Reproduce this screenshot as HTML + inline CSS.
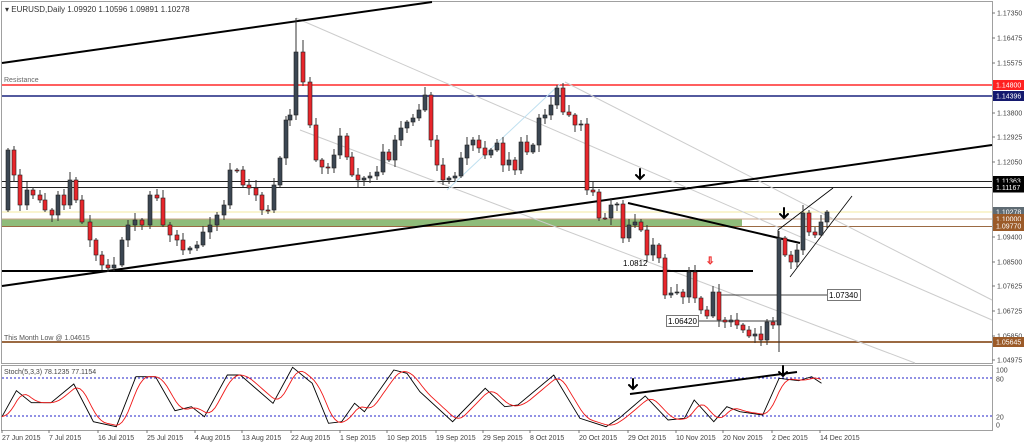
<!DOCTYPE html>
<html><head><meta charset="utf-8"><style>
html,body{margin:0;padding:0;background:#fff;}
svg{display:block;font-family:"Liberation Sans",sans-serif;}
</style></head><body>
<svg id="s" width="1024" height="445" viewBox="0 0 1024 445" xmlns="http://www.w3.org/2000/svg">
<rect x="0" y="0" width="1024" height="445" fill="#fff"/>
<rect x="1.5" y="1.5" width="991" height="362" fill="none" stroke="#a0a0a0"/>
<rect x="1.5" y="365.5" width="991" height="65" fill="none" stroke="#a0a0a0"/>
<rect x="2" y="219" width="740" height="8" fill="#8fbc7a"/>
<line x1="2" y1="85" x2="992" y2="85" stroke="#ff2a2a" stroke-width="1.5"/>
<line x1="2" y1="96" x2="992" y2="96" stroke="#1a237e" stroke-width="1.5"/>
<line x1="2" y1="181.5" x2="992" y2="181.5" stroke="#222" stroke-width="1"/>
<line x1="2" y1="187.5" x2="992" y2="187.5" stroke="#222" stroke-width="1"/>
<line x1="2" y1="212" x2="992" y2="212" stroke="#f3e9a0" stroke-width="1"/>
<line x1="2" y1="219" x2="992" y2="219" stroke="#c8a48a" stroke-width="1"/>
<line x1="2" y1="226.5" x2="992" y2="226.5" stroke="#9b6a43" stroke-width="1"/>
<line x1="2" y1="342" x2="992" y2="342" stroke="#9b6a43" stroke-width="2"/>
<text x="4" y="82" font-size="7" fill="#666">Resistance</text>
<text x="4" y="340" font-size="7" fill="#555">This Month Low @ 1.04615</text>
<g stroke="#cccccc" stroke-width="1" fill="none">
<line x1="296" y1="18" x2="992" y2="320"/>
<line x1="565" y1="82" x2="992" y2="300"/>
<line x1="300" y1="130" x2="915" y2="363"/>
<line x1="447" y1="190" x2="560" y2="84" stroke="#bfe0f0"/>
</g>
<line x1="2" y1="63" x2="432" y2="2" stroke="#000" stroke-width="2"/>
<line x1="2" y1="286" x2="992" y2="145" stroke="#000" stroke-width="2"/>
<line x1="2" y1="271" x2="753" y2="271" stroke="#000" stroke-width="2"/>
<line x1="628" y1="203" x2="800" y2="243" stroke="#000" stroke-width="2"/>
<g stroke="#000" stroke-width="0.8">
<line x1="778" y1="230" x2="833" y2="188"/>
<line x1="790" y1="277" x2="852" y2="196"/>
<line x1="778" y1="230" x2="778" y2="240"/>
<line x1="718" y1="295" x2="827" y2="295"/>
<line x1="698" y1="321" x2="778" y2="321"/>
</g>
<text x="623" y="266" font-size="8" fill="#000">1.0812</text>
<text x="706" y="264" font-size="10" fill="#fff" stroke="#e33" stroke-width="0.7">⇩</text>
<g stroke="#000" stroke-width="2" fill="none" stroke-linecap="round">
<path d="M640 169 V179 M636 175 L640 179 L644 175"/>
<path d="M784 208 V218 M780 214 L784 218 L788 214"/>
<path d="M633 379 V389 M629 385 L633 389 L637 385"/>
<path d="M783 366 V376 M779 372 L783 376 L787 372"/>
</g>
<rect x="827.5" y="289.5" width="33" height="11" fill="#fff" stroke="#777"/>
<text x="829" y="298" font-size="8" fill="#000">1.07340</text>
<rect x="666.5" y="315.5" width="32" height="11" fill="#fff" stroke="#777"/>
<text x="668" y="324" font-size="8" fill="#000">1.06420</text>
<g id="candles"></g>
<line x1="2" y1="378" x2="992" y2="378" stroke="#2323c8" stroke-dasharray="2,2"/>
<line x1="2" y1="416" x2="992" y2="416" stroke="#2323c8" stroke-dasharray="2,2"/>
<polyline id="sk" fill="none" stroke="#000" stroke-width="0.9"/>
<polyline id="sd" fill="none" stroke="#f01818" stroke-width="0.9"/>
<line x1="630" y1="394" x2="797" y2="372" stroke="#000" stroke-width="2"/>
<text x="4" y="374" font-size="7" fill="#444">Stoch(5,3,3) 78.1235 77.1154</text>
<text x="5" y="12" font-size="8" fill="#333">▾ EURUSD,Daily  1.09920 1.10596 1.09891 1.10278</text>
<g id="axis" font-size="7" fill="#444"></g>
<g id="dates" font-size="7" fill="#444"></g>
</svg>
<script>
(function(){
var NS="http://www.w3.org/2000/svg";
function el(t,a,p){var e=document.createElementNS(NS,t);for(var k in a)e.setAttribute(k,a[k]);if(p)p.appendChild(e);return e;}
var C=[[8,150],[14,175],[20,205],[27,190],[33,195],[40,200],[45,210],[52,215],[58,195],[64,205],[70,180],[76,200],[82,222],[90,240],[96,255],[102,265],[108,268],[114,265],[122,240],[128,225],[135,220],[142,225],[150,195],[157,198],[163,225],[170,235],[177,240],[183,250],[190,248],[197,245],[203,232],[210,225],[217,215],[224,205],[230,170],[237,170],[243,185],[249,188],[256,195],[262,210],[268,210],[274,185],[280,158],[286,120],[290,115],[296,52],[303,82],[310,125],[316,160],[322,167],[328,168],[334,155],[340,136],[347,157],[352,175],[358,180],[364,178],[370,176],[377,172],[383,152],[389,160],[395,140],[401,128],[407,122],[413,118],[419,110],[425,95],[431,140],[437,165],[443,180],[449,178],[455,176],[461,158],[467,145],[473,140],[479,148],[485,155],[491,150],[497,143],[503,165],[509,160],[515,170],[521,142],[527,152],[533,145],[539,118],[545,115],[551,105],[557,88],[563,112],[569,115],[575,125],[581,124],[587,190],[593,192],[599,218],[605,218],[611,205],[617,204],[623,238],[629,225],[635,222],[641,230],[647,255],[653,245],[659,258],[665,295],[671,293],[677,292],[683,297],[689,272],[695,298],[701,310],[707,316],[713,292],[719,320],[725,322],[731,320],[737,325],[743,330],[749,336],[755,334],[761,340],[767,322],[773,325],[779,238],[785,255],[791,262],[797,250],[803,213],[809,232],[815,235],[821,222],[827,212]];
var g=document.getElementById("candles");var prev=210;
for(var i=0;i<C.length;i++){var x=C[i][0],c=C[i][1],o=prev;prev=c;
var r1=((i*37)%7)+2,r2=((i*53)%6)+2;var hy=Math.min(o,c)-r1,ly=Math.max(o,c)+r2;
if(x==296)hy=18;if(x==779)ly=352;if(x==303)hy=40;
el("line",{x1:x,y1:hy,x2:x,y2:ly,stroke:"#333","stroke-width":1},g);
var h=Math.max(1,Math.abs(c-o));
el("rect",{x:x-2,y:Math.min(o,c),width:4,height:h,fill:c<o?"#3b4652":"#e8262b",stroke:"#222","stroke-width":0.6},g);}
var K=[[0,170],[22,92],[45,128],[75,128],[110,72],[140,185],[175,200],[205,50],[235,50],[265,152],[290,140],[310,170],[345,45],[365,45],[415,130],[445,22],[475,70],[500,190],[520,185],[540,130],[555,155],[600,30],[620,40],[640,95],[690,185],[740,85],[770,140],[790,135],[845,45],[885,175],[925,200],[945,175],[985,108],[1020,180],[1045,175],[1060,120],[1090,185],[1110,140],[1130,155],[1165,165],[1190,55],[1220,62],[1240,50],[1255,70]];
var pts=K.map(function(p){return [p[0]*0.653+2,p[1]/3+360];});
document.getElementById("sk").setAttribute("points",pts.map(function(p){return p[0].toFixed(1)+","+p[1].toFixed(1)}).join(" "));
function interp(x){for(var i=1;i<pts.length;i++){if(x<=pts[i][0]){var a=pts[i-1],b=pts[i];return a[1]+(b[1]-a[1])*(x-a[0])/(b[0]-a[0]);}}return pts[pts.length-1][1];}
var rd=[];for(var x=2;x<=822;x+=3){var s=0,n=0;for(var d=0;d<=12;d+=2){s+=interp(Math.max(2,x-d));n++;}rd.push(x+","+(s/n).toFixed(1));}
document.getElementById("sd").setAttribute("points",rd.join(" "));
var ax=document.getElementById("axis");
var L=[["1.17350",13],["1.16475",38],["1.15575",63],["1.13800",113],["1.12925",137],["1.12050",162],["1.09400",237],["1.08500",262],["1.07625",286],["1.06725",311],["1.05850",336],["1.04975",360]];
L.forEach(function(l){el("line",{x1:992,y1:l[1],x2:995,y2:l[1],stroke:"#777"},ax);var t=el("text",{x:997,y:l[1]+2.5},ax);t.textContent=l[0];});
var B=[["1.14800",85,"#ff2020"],["1.14396",96,"#14196e"],["1.11363",181,"#000"],["1.11167",187.5,"#000"],["1.10278",212,"#5f6b73"],["1.10000",219,"#9b5a28"],["1.09770",226,"#9b5a28"],["1.05645",342,"#9b5a28"]];
B.forEach(function(b){el("rect",{x:993,y:b[1]-5,width:31,height:10,fill:b[2]},ax);var t=el("text",{x:996,y:b[1]+2.5,fill:"#fff"},ax);t.textContent=b[0];});
[["100",370],["80",379],["20",417],["0",425]].forEach(function(l){var t=el("text",{x:996,y:l[1]+2.5},ax);t.textContent=l[0];});
var D=[["27 Jun 2015",2],["7 Jul 2015",49],["16 Jul 2015",98],["25 Jul 2015",147],["4 Aug 2015",195],["13 Aug 2015",242],["22 Aug 2015",291],["1 Sep 2015",340],["10 Sep 2015",387],["19 Sep 2015",436],["29 Sep 2015",483],["8 Oct 2015",530],["20 Oct 2015",579],["29 Oct 2015",628],["10 Nov 2015",676],["20 Nov 2015",723],["2 Dec 2015",772],["14 Dec 2015",820]];
var dg=document.getElementById("dates");
D.forEach(function(d){var t=el("text",{x:d[1],y:440},dg);t.textContent=d[0];el("line",{x1:d[1],y1:430,x2:d[1],y2:433,stroke:"#777"},dg);});
})();
</script>
</body></html>
